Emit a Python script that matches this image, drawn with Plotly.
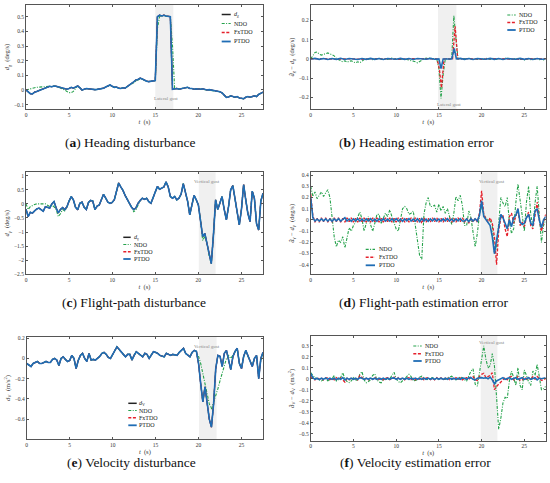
import plotly.graph_objects as go

# ---------------- data ----------------
T = [i * 0.25 for i in range(111)]          # sample times, 0 .. 27.5 s

# (a) heading disturbance
d_a = [0.0, -0.01, -0.025, -0.027, -0.015, -0.01, -0.005, 0.005,
       0.01, 0.012, 0.02, 0.025, 0.022, 0.027, 0.025, 0.02,
       0.018, 0.012, 0.005, 0.005, 0.01, 0.018, 0.012, 0.02,
       0.027, 0.015, 0.0, 0.005, 0.01, 0.008, 0.005, 0.005,
       0.002, 0.004, 0.005, 0.008, 0.012, 0.02, 0.03, 0.034,
       0.025, 0.018, 0.02, 0.012, 0.01, 0.015, 0.012, 0.025,
       0.034, 0.045, 0.055, 0.068, 0.072, 0.08, 0.075, 0.065,
       0.06, 0.057, 0.058, 0.062, 0.064, 0.5, 0.51, 0.505,
       0.51, 0.505, 0.5, 0.5, 0.005, 0.008, 0.01, 0.005,
       0.01, 0.012, 0.015, 0.018, 0.01, 0.01, 0.005, 0.008,
       0.005, 0.005, 0.008, 0.002, 0.0, 0.002, 0.0, -0.003,
       -0.005, -0.01, -0.012, -0.02, -0.035, -0.05, -0.048, -0.04,
       -0.045, -0.05, -0.045, -0.055, -0.057, -0.06, -0.05, -0.045,
       -0.05, -0.045, -0.04, -0.045, -0.03, -0.023, -0.015]
ndo_a = [0.0, 0.005, 0.01, 0.012, 0.015, 0.018, 0.02, 0.022,
         0.023, 0.022, 0.023, 0.025, 0.022, 0.027, 0.025, 0.02,
         0.015, 0.008, 0.0, -0.01, -0.018, -0.018, -0.01, 0.01,
         0.027, 0.015, 0.0, 0.005, 0.01, 0.008, 0.005, 0.005,
         0.002, 0.004, 0.005, 0.008, 0.012, 0.02, 0.03, 0.034,
         0.025, 0.018, 0.02, 0.012, 0.01, 0.015, 0.012, 0.025,
         0.034, 0.04, 0.048, 0.058, 0.068, 0.078, 0.075, 0.065,
         0.06, 0.057, 0.058, 0.062, 0.064, 0.42, 0.5, 0.505,
         0.51, 0.505, 0.5, 0.5, 0.3, 0.008, 0.01, 0.005,
         0.01, 0.012, 0.015, 0.018, 0.01, 0.01, 0.005, 0.008,
         0.005, 0.005, 0.008, 0.002, 0.0, 0.002, 0.0, -0.003,
         -0.005, -0.01, -0.012, -0.02, -0.035, -0.05, -0.048, -0.04,
         -0.045, -0.05, -0.045, -0.055, -0.057, -0.06, -0.05, -0.045,
         -0.05, -0.045, -0.04, -0.045, -0.03, -0.023, -0.015]

# (b) heading estimation error
ndo_b = [0.0, 0.015, 0.033, 0.036, 0.025, 0.02, 0.024, 0.03,
         0.031, 0.026, 0.022, 0.016, 0.002, -0.005, -0.012, -0.015,
         -0.01, -0.017, -0.012, -0.01, -0.016, -0.02, -0.015, -0.02,
         -0.012, -0.003, 0.0, -0.003, 0.002, -0.004, 0.001, -0.002,
         0.003, -0.003, 0.0, 0.002, -0.003, 0.001, 0.004, -0.002,
         0.003, -0.002, 0.001, -0.004, 0.0, -0.003, -0.005, -0.008,
         -0.01, -0.015, -0.02, -0.012, -0.005, 0.0, 0.004, 0.002,
         0.005, 0.0, 0.003, 0.0, -0.05, -0.205, -0.08, 0.0,
         0.002, -0.002, 0.005, 0.225, 0.1, 0.0, 0.003, -0.003,
         0.002, -0.002, 0.004, 0.0, -0.003, 0.002, -0.002, 0.003,
         0.0, -0.003, 0.003, 0.0, -0.002, 0.004, 0.0, -0.003,
         0.002, 0.0, -0.003, 0.003, 0.005, 0.0, -0.004, 0.002,
         -0.002, 0.003, -0.003, 0.0, -0.005, -0.003, 0.002, -0.004,
         0.0, -0.003, 0.002, -0.004, -0.002, -0.005, -0.003]
fx_b_t = [0, 1.5, 3, 4.5, 6, 7.5, 9, 10.5, 12, 13.5, 14.8, 15.05, 15.3, 15.6,
          16.6, 16.9, 17.2, 18.5, 20, 21.5, 23, 24.5, 26, 27.5]
fx_b = [0, 0.002, -0.002, 0.001, -0.002, 0.002, 0, -0.002, 0.002, 0, 0, -0.05, -0.15, 0,
        0, 0.17, 0, 0.002, -0.002, 0.002, 0, -0.002, 0.002, 0]
pt_b_t = [0, 0.5, 1, 1.5, 2, 2.5, 3, 3.5, 4, 4.5, 5, 5.5, 6, 6.5, 7, 7.5, 8, 8.5, 9, 9.5,
          10, 10.5, 11, 11.5, 12, 12.5, 13, 13.5, 14, 14.5,
          15.0, 15.25, 15.5, 16.5, 16.8, 17.05,
          17.5, 18, 18.5, 19, 19.5, 20, 20.5, 21, 21.5, 22, 22.5, 23, 23.5, 24, 24.5,
          25, 25.5, 26, 26.5, 27, 27.5]
pt_b = [0, 0.003, -0.002, 0.002, -0.003, 0.002, -0.002, 0.003, -0.003, 0.002,
        0, -0.003, 0.002, -0.002, 0.003, -0.002, 0.002, -0.003, 0.002, 0,
        -0.002, 0.003, -0.002, 0.002, -0.003, 0.002, 0, -0.002, 0.003, -0.002,
        0.0, -0.05, 0.0, 0.0, 0.055, 0.0,
        0.003, -0.002, 0.002, -0.003, 0.002, 0, -0.002, 0.003, -0.002, 0.002, -0.003,
        0.002, 0, -0.002, 0.003, -0.002, 0.002, -0.003, 0.002, -0.002, 0]

# (c) flight-path disturbance
d_c = [-0.19, -0.45, -0.3, -0.33, -0.25, -0.18, -0.15, -0.22,
       -0.26, -0.1, -0.12, -0.15, 0.0, 0.08, -0.15, -0.32,
       -0.2, -0.13, -0.21, -0.1, 0.1, 0.26, 0.14, -0.12,
       -0.21, 0.02, 0.06, -0.12, -0.2, 0.05, 0.12, 0.1,
       -0.2, -0.08, -0.04, 0.15, 0.34, 0.2, 0.06, 0.02,
       0.05, 0.15, 0.45, 0.74, 0.6, 0.48, 0.3, 0.18,
       0.02, -0.12, -0.2, -0.15, 0.02, 0.12, 0.2, 0.16,
       0.2, 0.08, 0.02, 0.22, 0.4, 0.62, 0.52, 0.55,
       0.6, 0.78, 0.6, 0.26, 0.2, 0.26, 0.14, 0.2,
       0.35, 0.72, 0.45, 0.1, -0.39, -0.05, 0.3, 0.15,
       -0.04, -0.6, -1.16, -1.05, -1.4, -1.85, -2.12, -1.1,
       0.14, -0.2, 0.05, 0.26, -0.2, -0.57, -0.1, 0.5,
       0.65, 0.2, -0.21, -0.75, -0.2, 0.68, 0.14, -0.35,
       -0.63, 0.45, 0.2, -0.7, -0.93, 0.1, 0.38]
ndo_c = [0.0, -0.2, -0.1, -0.05, -0.02, 0.0, 0.0, -0.02,
         0.0, 0.0, -0.05, -0.1, -0.05, -0.1, -0.2, -0.45,
         -0.35, -0.2, -0.25, -0.12, 0.1, 0.26, 0.14, -0.12,
         -0.21, 0.02, 0.06, -0.12, -0.2, 0.05, 0.12, 0.1,
         -0.2, -0.08, -0.04, 0.15, 0.34, 0.2, 0.06, 0.02,
         0.05, 0.15, 0.45, 0.74, 0.6, 0.48, 0.3, 0.18,
         0.02, -0.12, -0.28, -0.22, -0.05, 0.12, 0.2, 0.16,
         0.2, 0.08, 0.02, 0.22, 0.4, 0.62, 0.52, 0.55,
         0.6, 0.78, 0.6, 0.26, 0.2, 0.26, 0.14, 0.2,
         0.35, 0.72, 0.45, 0.1, -0.39, -0.05, 0.3, 0.15,
         -0.04, -0.55, -1.3, -1.15, -1.4, -1.85, -2.12, -1.1,
         0.14, -0.2, 0.05, 0.26, -0.2, -0.57, -0.1, 0.5,
         0.65, 0.2, -0.21, -0.75, -0.2, 0.68, 0.14, -0.35,
         -0.63, 0.45, 0.2, -0.7, -0.93, 0.1, 0.38]

# (d) flight-path estimation error
ndo_d = [0.3, 0.21, 0.25, 0.19, 0.22, 0.25, 0.21, 0.24,
         0.27, 0.2, 0.05, -0.15, -0.24, -0.18, -0.2, -0.15,
         -0.25, -0.16, -0.07, -0.1, -0.05, -0.02, 0.03, 0.07,
         0.01, -0.1, -0.03, 0.03, -0.04, -0.1, -0.03, 0.05,
         0.05, -0.03, 0.015, 0.06, 0.03, 0.09, 0.03, -0.03,
         -0.08, -0.1, 0.02, 0.1, 0.12, 0.1, 0.05, 0.06,
         0.08, -0.05, -0.2, -0.32, -0.35, 0.05, 0.15, 0.2,
         0.12, 0.12, 0.13, 0.07, 0.14, 0.08, 0.12, 0.06,
         0.1, 0.04, -0.04, 0.06, 0.21, 0.17, 0.22, 0.13,
         -0.05, -0.05, 0.08, 0.02, -0.12, -0.24, -0.12, 0.05,
         0.12, 0.05, 0.015, 0.0, -0.01, -0.04, -0.3, -0.25,
         -0.05, 0.2, 0.15, 0.12, 0.2, -0.02, -0.12, -0.08,
         0.15, 0.32, 0.18, 0.05, -0.1, 0.16, 0.3, 0.05,
         -0.06, 0.15, 0.3, 0.05, -0.2, -0.05, 0.0]
fx_d = [0.23, 0.04, -0.02, 0.015, -0.02, 0.02, -0.015, 0.02,
        -0.02, 0.015, -0.02, 0.02, -0.015, 0.02, -0.02, 0.015,
        -0.02, 0.02, -0.015, 0.02, -0.02, 0.015, -0.02, 0.02,
        -0.015, 0.02, -0.02, 0.015, -0.02, 0.02, -0.015, 0.02,
        -0.02, 0.015, -0.02, 0.02, -0.015, 0.02, -0.02, 0.015,
        -0.02, 0.02, -0.015, 0.02, -0.02, 0.015, -0.02, 0.02,
        -0.015, 0.02, -0.02, 0.015, -0.03, 0.02, -0.02, 0.015,
        -0.02, 0.02, -0.015, 0.02, -0.02, 0.015, -0.02, 0.02,
        -0.015, 0.02, -0.02, 0.015, -0.02, 0.02, -0.015, 0.02,
        -0.02, 0.015, -0.03, 0.02, -0.02, 0.015, -0.02, 0.06,
        0.26, 0.05, 0.01, -0.02, 0.02, -0.03, -0.15, -0.4,
        -0.1, 0.02, 0.04, -0.08, -0.15, 0.03, 0.06, -0.03,
        0.03, 0.1, -0.05, -0.02, -0.06, 0.02, 0.07, -0.05,
        -0.08, 0.05, 0.16, 0.0, -0.1, -0.02, 0.05]
pt_d = [0.2, 0.02, -0.01, 0.008, -0.01, 0.01, -0.008, 0.01,
        -0.01, 0.008, -0.012, 0.01, -0.008, 0.012, -0.01, 0.008,
        0.02, -0.01, 0.008, -0.012, 0.01, -0.008, 0.012, -0.01,
        0.008, -0.01, 0.01, -0.008, 0.012, -0.01, 0.008, -0.012,
        0.01, -0.008, 0.012, -0.01, 0.008, -0.01, 0.01, -0.008,
        0.012, -0.01, 0.008, -0.012, 0.01, -0.008, 0.012, -0.01,
        0.008, -0.01, 0.01, -0.015, 0.012, -0.01, 0.008, -0.012,
        0.01, -0.008, 0.012, -0.01, 0.008, -0.01, 0.01, -0.008,
        0.012, -0.01, 0.008, -0.012, 0.01, -0.008, 0.012, -0.01,
        -0.01, 0.008, -0.015, 0.01, -0.01, 0.01, -0.01, 0.04,
        0.17, 0.03, 0.0, -0.02, -0.05, -0.15, -0.3, -0.18,
        -0.05, 0.05, 0.02, -0.03, -0.08, 0.0, -0.06, 0.02,
        0.04, 0.1, -0.02, -0.04, -0.03, 0.02, 0.05, -0.03,
        -0.05, 0.08, 0.1, 0.0, -0.07, 0.0, 0.03]

# (e) velocity disturbance
d_e = [-0.05, -0.07, -0.08, -0.05, -0.04, -0.03, -0.05, -0.05,
       -0.04, -0.03, -0.04, -0.04, -0.01, 0.0, -0.016, -0.07,
       0.0, 0.016, -0.01, -0.03, -0.02, 0.03, 0.0, -0.1,
       -0.02, 0.03, 0.05, 0.0, -0.03, 0.05, -0.016, -0.01,
       -0.016, 0.0, 0.02, 0.05, 0.06, 0.04, 0.01, 0.0,
       0.04, 0.07, 0.115, 0.09, 0.07, 0.04, 0.016, 0.04,
       0.04, -0.016, 0.03, 0.066, 0.05, 0.03, 0.016, 0.05,
       0.04, 0.0, 0.03, 0.066, 0.06, 0.05, 0.03, 0.025,
       0.016, 0.05, 0.04, 0.03, 0.04, 0.035, 0.03, 0.06,
       0.08, 0.1, 0.05, 0.03, 0.016, 0.06, 0.08, 0.07,
       -0.05, -0.25, -0.43, -0.28, -0.45, -0.6, -0.68, -0.45,
       -0.1, 0.03, 0.02, -0.08, 0.05, 0.08, -0.016, -0.11,
       0.02, 0.07, 0.1, -0.05, -0.1, 0.02, 0.08, 0.02,
       -0.03, -0.08, 0.0, 0.03, -0.2, 0.0, 0.06]
ndo_e = [-0.05, -0.07, -0.08, -0.05, -0.04, -0.03, -0.05, -0.05,
         -0.04, -0.03, -0.04, -0.04, -0.01, 0.0, -0.016, -0.07,
         0.0, 0.016, -0.01, -0.03, -0.02, 0.03, 0.0, -0.1,
         -0.02, 0.03, 0.05, 0.0, -0.03, 0.05, -0.016, -0.01,
         -0.016, 0.0, 0.02, 0.05, 0.06, 0.04, 0.01, 0.0,
         0.04, 0.07, 0.115, 0.09, 0.07, 0.04, 0.016, 0.04,
         0.04, -0.016, 0.03, 0.066, 0.05, 0.03, 0.016, 0.05,
         0.04, 0.0, 0.03, 0.066, 0.06, 0.05, 0.03, 0.025,
         0.016, 0.05, 0.04, 0.03, 0.04, 0.035, 0.03, 0.06,
         0.08, 0.1, 0.05, 0.03, 0.016, 0.06, 0.08, 0.07,
         0.02, -0.05, -0.15, -0.25, -0.35, -0.45, -0.5, -0.44,
         -0.37, -0.3, -0.22, -0.15, -0.08, 0.0, 0.03, 0.0,
         0.03, 0.07, 0.1, -0.04, -0.09, 0.02, 0.08, 0.02,
         -0.03, -0.07, 0.0, 0.02, -0.16, -0.02, 0.04]

# (f) velocity estimation error
ndo_f = [0.055, 0.03, 0.01, 0.0, -0.01, -0.02, -0.01, 0.0,
         -0.02, -0.01, 0.0, 0.03, -0.02, -0.01, 0.01, 0.055,
         0.0, -0.025, -0.035, -0.02, 0.01, -0.01, -0.015, 0.04,
         0.065, -0.01, -0.037, -0.025, -0.01, 0.03, 0.045, -0.01,
         -0.03, -0.037, -0.01, 0.0, -0.01, 0.0, 0.03, 0.06,
         0.0, -0.025, -0.037, -0.02, 0.0, 0.015, 0.04, 0.02,
         -0.02, -0.015, -0.01, 0.015, 0.024, 0.01, 0.0, -0.01,
         0.005, 0.01, 0.0, -0.005, 0.0, 0.005, 0.0, -0.005,
         0.01, 0.02, 0.024, 0.005, -0.01, 0.0, 0.018, 0.01,
         -0.01, -0.02, 0.03, 0.07, 0.09, -0.05, -0.067, 0.05,
         0.2, 0.3, 0.18, 0.1, 0.12, 0.23, 0.12, -0.18,
         -0.46, -0.36, -0.22, -0.17, -0.18, -0.02, 0.07, 0.01,
         -0.06, 0.1, -0.06, -0.1, 0.08, 0.03, -0.03, -0.06,
         0.07, 0.03, 0.13, 0.02, -0.1, -0.09, -0.07]
fx_f = [0.02, 0.005, -0.01, 0.01, -0.005, 0.008, -0.01, 0.005,
        0.01, -0.008, 0.005, -0.01, 0.01, -0.005, 0.008, -0.01,
        -0.03, 0.005, -0.01, 0.01, -0.005, 0.008, -0.01, 0.03,
        0.01, -0.008, 0.005, -0.01, 0.01, -0.005, 0.015, -0.01,
        -0.005, 0.008, -0.01, 0.005, 0.01, -0.008, 0.005, 0.015,
        -0.01, 0.01, -0.005, 0.008, -0.01, 0.005, 0.01, -0.008,
        0.005, -0.01, 0.01, -0.005, 0.008, -0.01, 0.005, 0.01,
        -0.008, 0.005, -0.01, 0.01, -0.005, 0.008, -0.01, 0.005,
        0.01, -0.008, 0.005, -0.01, 0.01, -0.005, 0.008, -0.01,
        0.005, 0.01, -0.008, 0.015, 0.02, -0.01, -0.015, 0.02,
        0.04, 0.05, 0.01, 0.02, 0.03, 0.055, -0.1, -0.07,
        -0.05, -0.03, -0.015, 0.01, -0.01, 0.015, 0.02, -0.01,
        0.0, 0.02, -0.015, -0.01, 0.015, -0.005, 0.01, -0.01,
        0.02, -0.005, 0.02, 0.0, -0.015, -0.01, 0.0]
pt_f = [0.05, 0.01, -0.005, 0.005, -0.008, 0.005, -0.005, 0.008,
        -0.005, 0.006, -0.006, 0.005, -0.008, 0.005, -0.005, 0.01,
        -0.01, 0.005, -0.006, 0.006, -0.005, 0.005, -0.006, 0.01,
        0.005, -0.006, 0.005, -0.005, 0.006, -0.005, 0.005, -0.006,
        0.005, -0.005, 0.006, -0.006, 0.005, -0.005, 0.006, 0.008,
        -0.005, 0.005, -0.006, 0.006, -0.005, 0.005, -0.006, 0.005,
        -0.005, 0.006, -0.005, 0.005, -0.006, 0.005, -0.005, 0.006,
        -0.005, 0.005, -0.006, 0.006, -0.005, 0.005, -0.006, 0.005,
        -0.005, 0.006, -0.005, 0.005, -0.006, 0.005, -0.005, 0.006,
        0.005, -0.005, 0.008, 0.01, -0.005, -0.01, 0.005, 0.01,
        0.01, 0.005, 0.01, 0.0, 0.015, -0.01, -0.045, -0.02,
        -0.01, 0.0, 0.01, -0.005, 0.005, 0.01, -0.005, 0.005,
        0.01, -0.005, 0.005, 0.01, -0.005, 0.005, 0.01, -0.005,
        0.005, 0.01, -0.01, 0.005, 0.0, 0.005, 0.01]

for arr in (d_a, ndo_a, ndo_b, d_c, ndo_c, ndo_d, fx_d, pt_d, d_e, ndo_e, ndo_f, fx_f, pt_f):
    assert len(arr) == len(T), len(arr)
assert len(fx_b_t) == len(fx_b) and len(pt_b_t) == len(pt_b)

X_TICKS = [0, 5, 10, 15, 20, 25]
Y_TICKS = {
    1: [-0.1, 0, 0.1, 0.2, 0.3, 0.4, 0.5],
    2: [-0.2, -0.1, 0, 0.1, 0.2],
    3: [-2.5, -2, -1.5, -1, -0.5, 0, 0.5, 1],
    4: [-0.4, -0.3, -0.2, -0.1, 0, 0.1, 0.2, 0.3, 0.4],
    5: [-0.6, -0.4, -0.2, 0, 0.2],
    6: [-0.5, -0.4, -0.3, -0.2, -0.1, 0, 0.1, 0.2, 0.3],
}
Y_RANGES = {1: [-0.13, 0.58], 2: [-0.26, 0.28], 3: [-2.5, 1.12],
            4: [-0.485, 0.425], 5: [-0.8, 0.215], 6: [-0.565, 0.39]}
GUSTS = {1: [15.0, 17.1], 2: [14.9, 17.05], 3: [20.05, 22.0],
         4: [19.9, 21.85], 5: [20.05, 22.1], 6: [19.9, 21.85]}

# ---------------- styling ----------------
W, H = 550, 483
SERIF = "Liberation Serif, DejaVu Serif, serif"
BLACK, GREEN, RED, BLUE = "#222222", "#25A24B", "#E5202B", "#1F6DB5"
NDO_DASH = "3px,1.4px,1px,1.4px"
FX_DASH = "3px,1.6px"
AXC = "#555555"

# plot boxes in pixels: x0, x1, ytop, ybottom
BOX = {1: (26, 263, 5, 109), 2: (310.7, 545.7, 5, 109),
       3: (26, 263, 172.3, 274.3), 4: (310.7, 545.7, 172.3, 274.3),
       5: (26.7, 263, 336.7, 439.3), 6: (310.7, 545.7, 336, 440.7)}


def sfx(n):
    return "" if n == 1 else str(n)


def dom(n, px, py):
    x0, x1, yt, yb = BOX[n]
    return (px - x0) / (x1 - x0), (yb - py) / (yb - yt)


fig = go.Figure()


def add(n, x, y, color, width, dash="solid"):
    fig.add_trace(go.Scatter(x=x, y=y, mode="lines", xaxis="x" + sfx(n), yaxis="y" + sfx(n),
                             line=dict(color=color, width=width, dash=dash),
                             showlegend=False, hoverinfo="skip"))


# disturbance panels
for n, d, ndo in ((1, d_a, ndo_a), (3, d_c, ndo_c), (5, d_e, ndo_e)):
    add(n, T, d, BLACK, 1.2)
    add(n, T, ndo, GREEN, 1.1, NDO_DASH)
    add(n, T, d, RED, 1.2, FX_DASH)
    add(n, T, d, BLUE, 1.6)

# error panels
add(2, T, ndo_b, GREEN, 1.1, NDO_DASH)
add(2, fx_b_t, fx_b, RED, 1.3, FX_DASH)
add(2, pt_b_t, pt_b, BLUE, 1.6)
add(4, T, ndo_d, GREEN, 1.1, NDO_DASH)
add(4, T, fx_d, RED, 1.3, FX_DASH)
add(4, T, pt_d, BLUE, 1.6)
add(6, T, ndo_f, GREEN, 1.1, NDO_DASH)
add(6, T, fx_f, RED, 1.3, FX_DASH)
add(6, T, pt_f, BLUE, 1.6)

Y_TITLES = {
    1: "<i>d</i><sub>χ</sub>  (deg/s)",
    2: "<i>d̂</i><sub>χ</sub> − <i>d</i><sub>χ</sub>  (deg/s)",
    3: "<i>d</i><sub>γ</sub>  (deg/s)",
    4: "<i>d̂</i><sub>γ</sub> − <i>d</i><sub>γ</sub>  (deg/s)",
    5: "<i>d</i><sub>V</sub>  (m/s<sup>2</sup>)",
    6: "<i>d̂</i><sub>V</sub> − <i>d</i><sub>V</sub>  (m/s<sup>2</sup>)",
}

layout = dict(width=W, height=H, margin=dict(l=0, r=0, t=0, b=0),
              paper_bgcolor="white", plot_bgcolor="white",
              font=dict(family=SERIF, color="#333"))
for n in range(1, 7):
    x0, x1, yt, yb = BOX[n]
    common = dict(showline=True, linecolor=AXC, linewidth=0.8, mirror="ticks",
                  ticks="inside", ticklen=2, tickwidth=0.6, tickcolor=AXC,
                  showgrid=False, zeroline=False, automargin=False,
                  tickfont=dict(size=5.5, family=SERIF, color="#333"))
    layout["xaxis" + sfx(n)] = dict(common, domain=[x0 / W, x1 / W], range=[0, 27.5],
                                    anchor="y" + sfx(n), tickvals=X_TICKS,
                                    title=dict(text="<i>t</i>  (s)", standoff=2,
                                               font=dict(size=6.5, family=SERIF, color="#333")))
    layout["yaxis" + sfx(n)] = dict(common, domain=[1 - yb / H, 1 - yt / H], range=Y_RANGES[n],
                                    anchor="x" + sfx(n), tickvals=Y_TICKS[n],
                                    title=dict(text=Y_TITLES[n], standoff=3,
                                               font=dict(size=6.5, family=SERIF, color="#333")))
fig.update_layout(**layout)

# gust shading
for n in range(1, 7):
    g0, g1 = GUSTS[n]
    fig.add_shape(type="rect", xref="x" + sfx(n), yref="y" + sfx(n) + " domain",
                  x0=g0, x1=g1, y0=0, y1=1, fillcolor="#f0f0f0", line=dict(width=0), layer="below")

# gust labels (pixel positions)
GUST_TXT = {1: ("Lateral gust", 166, 98.3), 2: ("Lateral gust", 449, 104.5),
            3: ("Vertical gust", 206.7, 181.7), 4: ("Vertical gust", 491.7, 181.7),
            5: ("Vertical gust", 206.7, 346.7), 6: ("Vertical gust", 492.3, 342.7)}
for n, (txt, px, py) in GUST_TXT.items():
    dx, dy = dom(n, px, py)
    fig.add_annotation(xref="x" + sfx(n) + " domain", yref="y" + sfx(n) + " domain",
                       x=dx, y=dy, text=txt, showarrow=False, xanchor="center", yanchor="middle",
                       font=dict(size=5, family=SERIF, color="#8a8a8a"))

# legends (pixel positions: sample x0, x1, text x, row ys)
ITEMS4 = [("<i>d</i><sub>χ</sub>", BLACK, "solid", 1.5), ("NDO", GREEN, NDO_DASH, 1.2),
          ("FxTDO", RED, FX_DASH, 1.4), ("PTDO", BLUE, "solid", 1.8)]
ITEMS3 = ITEMS4[1:]
LEG = {1: (221.7, 230.7, 232.3, [14.5, 23.5, 32.5, 41.5], ITEMS4),
       2: (507.3, 515.7, 516.7, [15, 22.5, 30], ITEMS3),
       3: (123.3, 130.7, 131.7, [237.3, 244.5, 251.7, 259],
           [("<i>d</i><sub>γ</sub>",) + ITEMS4[0][1:]] + ITEMS3),
       4: (365.7, 375, 376.7, [249.3, 257.3, 265.3], ITEMS3),
       5: (128.3, 136.7, 137.3, [403.3, 410.5, 417.7, 425.3],
           [("<i>d</i><sub>V</sub>",) + ITEMS4[0][1:]] + ITEMS3),
       6: (413.3, 421.7, 422.7, [346, 353.7, 361], ITEMS3)}
for n, (sx0, sx1, tx, rows, items) in LEG.items():
    for py, (name, col, dash, wd) in zip(rows, items):
        a0, b = dom(n, sx0, py)
        a1, _ = dom(n, sx1, py)
        at, _ = dom(n, tx, py)
        fig.add_shape(type="line", xref="x" + sfx(n) + " domain", yref="y" + sfx(n) + " domain",
                      x0=a0, x1=a1, y0=b, y1=b, line=dict(color=col, width=wd, dash=dash))
        fig.add_annotation(xref="x" + sfx(n) + " domain", yref="y" + sfx(n) + " domain",
                           x=at, y=b, text=name, showarrow=False, xanchor="left", yanchor="middle",
                           font=dict(size=6, family=SERIF, color="#222"))

# captions
CAPS = [("(<b>a</b>) Heading disturbance", 130, 142.2),
        ("(<b>b</b>) Heading estimation error", 416, 142.2),
        ("(<b>c</b>) Flight-path disturbance", 134, 302.2),
        ("(<b>d</b>) Flight-path estimation error", 424, 302.2),
        ("(<b>e</b>) Velocity disturbance", 131, 462.2),
        ("(<b>f</b>) Velocity estimation error", 415, 462.2)]
for txt, px, py in CAPS:
    fig.add_annotation(xref="paper", yref="paper", x=px / W, y=1 - py / H, text=txt,
                       showarrow=False, xanchor="center", yanchor="middle",
                       font=dict(size=13.5, family=SERIF, color="#111"))

fig.write_html("out.html", config={"displayModeBar": False},
               post_script="document.body.style.margin='0';document.body.style.overflow='hidden';")
